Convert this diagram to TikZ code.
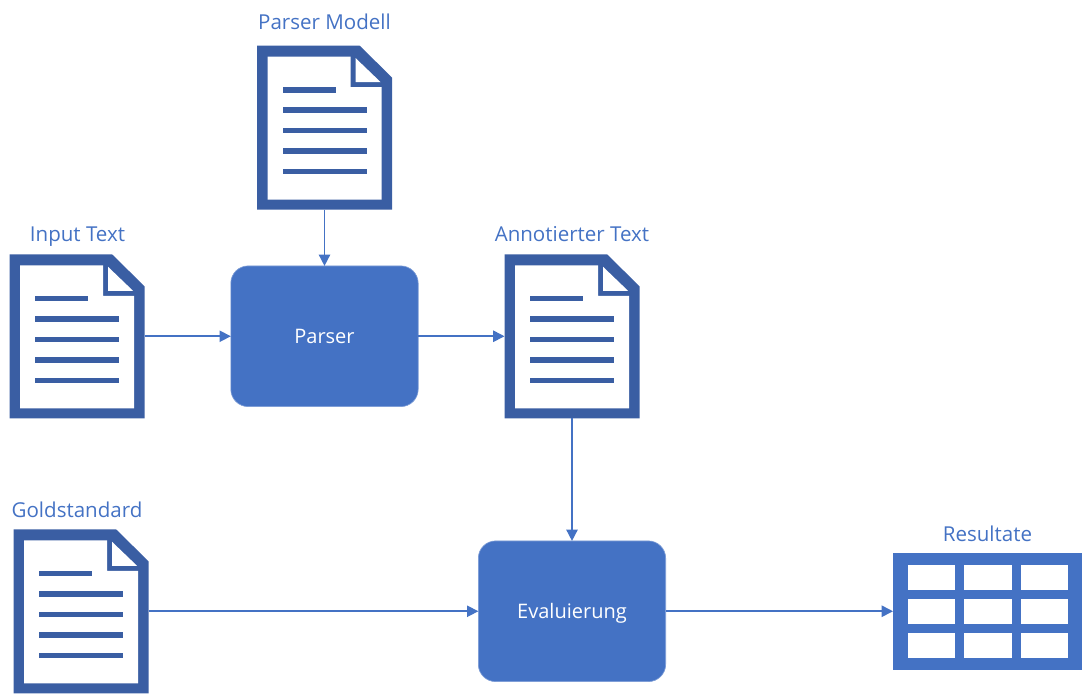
\documentclass[tikz,border=0pt]{standalone}
\usepackage{fontspec}
\setmainfont{Open Sans}
\usetikzlibrary{arrows.meta}
\definecolor{boxblue}{HTML}{4472C4}
\definecolor{docblue}{HTML}{3A5EA3}
\tikzset{
  doc/.style={minimum width=101.25pt,minimum height=123pt,inner sep=0pt,outer sep=0pt},
  proc/.style={fill=boxblue,draw=boxblue!70!white,line width=.5pt,rounded corners=13pt,minimum width=140.5pt,minimum height=105.5pt,
    inner sep=0pt,outer sep=0pt,text=white,text height=14pt,text depth=3pt,font=\fontsize{15}{18}\selectfont},
  lab/.style={text=boxblue,inner sep=0pt,anchor=base,font=\fontsize{15.4}{18}\selectfont},
  conn/.style={->,draw=boxblue,line width=1.2pt},
  docicon/.pic={
    \fill[docblue] (-67.5,-82)--(35,-82)--(67.5,-50)--(67.5,82)--(-67.5,82)--cycle;
    \fill[white] (-57,-71)--(26,-71)--(26,-40.5)--(57,-40.5)--(57,72)--(-57,72)--cycle;
    \fill[white] (31,-69.5)--(56,-45.5)--(31,-45.5)--cycle;
    \fill[docblue] (-42,-40.5) rectangle (11,-35);
    \foreach \y in {-17.5,3,23.5,44}
      \fill[docblue] (-42,\y-2.75) rectangle (42,\y+2.75);
  }
}
\begin{document}
\begin{tikzpicture}[x=.75pt,y=-.75pt,>={Triangle[length=8.5pt,width=8.5pt]}]
\useasboundingbox (0,0) rectangle (1083,694);
% documents
\node[doc] (modell) at (324.5,127.5) {};
\node[doc] (input) at (77,336.25) {};
\node[doc] (annotiert) at (572,336.25) {};
\node[doc] (gold) at (81,611.25) {};
\pic at (modell) {docicon};
\pic at (input) {docicon};
\pic at (annotiert) {docicon};
\pic at (gold) {docicon};
% processes
\node[proc] (parser) at (324.5,336.25) {Parser};
\node[proc] (eval) at (572,611.25) {Evaluierung};
% result table
\node[fill=boxblue,minimum width=141.75pt,minimum height=87.75pt,inner sep=0pt,outer sep=0pt] (res) at (987.5,611.25) {};
\foreach \x in {907.5,964,1020.5}
  \foreach \y in {565,599,632.75}
    \fill[white] (\x,\y) rectangle (\x+47.5,\y+25.3);
% labels
\node[lab] (lmodell) at (324.5,29.25) {Parser Modell};
\node[lab] (linput) at (77.5,241.25) {Input Text};
\node[lab] (lannotiert) at (572,241.25) {Annotierter Text};
\node[lab] (lgold) at (77,517.25) {Goldstandard};
\node[lab] (lres) at (987.5,541.25) {Resultate};
% connectors
\draw[conn] (modell)--(parser);
\draw[conn] (input)--(parser);
\draw[conn] (parser)--(annotiert);
\draw[conn] (annotiert)--(eval);
\draw[conn] (gold)--(eval);
\draw[conn] (eval)--(res);
\end{tikzpicture}
\end{document}
